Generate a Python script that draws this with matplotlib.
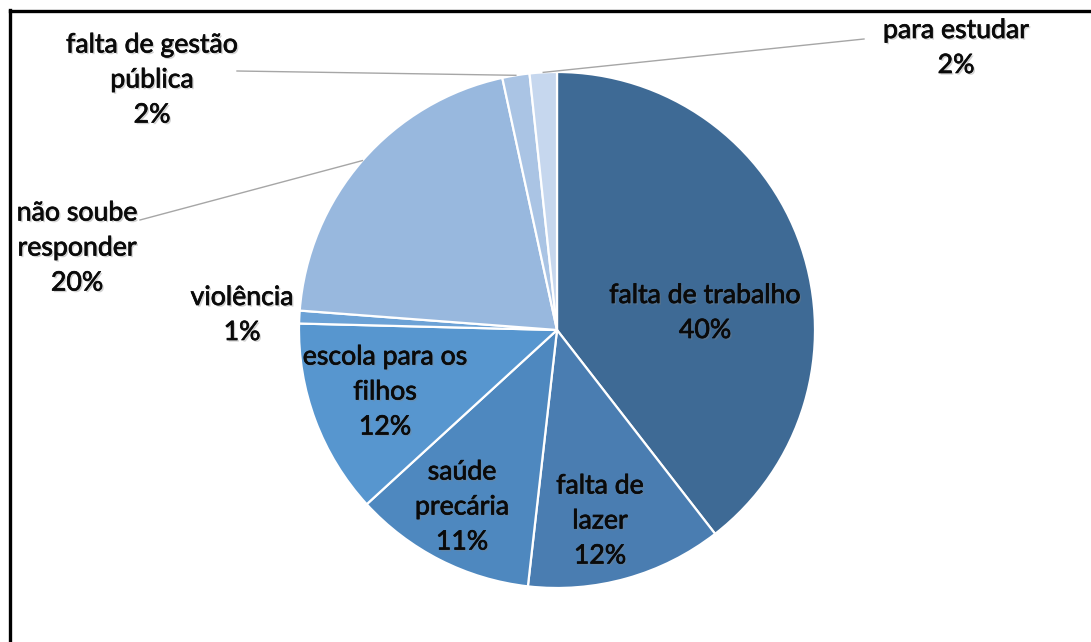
import matplotlib
matplotlib.use("Agg")
import matplotlib.pyplot as plt
import matplotlib.patheffects as pe
from matplotlib.lines import Line2D
import numpy as np

# ---- data ----
categories = ["falta de trabalho", "falta de\nlazer", "saúde\nprecária",
              "escola para os\nfilhos", "violência", "não soube\nresponder",
              "falta de gestão\npública", "para estudar"]
values = [39.5, 12.3, 11.4, 12.2, 0.8, 20.4, 1.7, 1.7]
colors = ["#3E6A95", "#4A7DB1", "#4E88BF", "#5796CF", "#6CA2D6",
          "#98B8DE", "#AAC4E4", "#C6D7EE"]

# ---- layout (pixel positions, y from bottom) ----
W, H = 1091, 642
center = (557, H - 330)
radius = 258
label_pos = [(705, H - 313), (600, H - 521), (462, H - 507), (385, H - 392),
             (242, H - 315), (77, H - 248), (152, H - 80), (956, H - 48)]
leader_end = {5: (140, H - 220), 6: (237, H - 71), 7: (864, H - 39)}

fig = plt.figure(figsize=(W / 100, H / 100), dpi=100)
ax = fig.add_axes([0, 0, 1, 1])
wedges, _ = ax.pie(values, colors=colors, startangle=90, counterclock=False,
                   center=center, radius=radius,
                   wedgeprops=dict(edgecolor="white", linewidth=1.6))
ax.set_xlim(0, W)
ax.set_ylim(0, H)
ax.set_aspect("equal")
ax.axis("off")

shadow = [pe.SimplePatchShadow(offset=(1.2, -1.2), shadow_rgbFace="#808080", alpha=0.35),
          pe.withStroke(linewidth=0.5, foreground="#0A0A0A")]

for i, (cat, v) in enumerate(zip(categories, values)):
    txt = f"{cat}\n{round(v)}%"
    x, y = label_pos[i]
    ax.text(x, y, txt, ha="center", va="center", fontsize=19.2,
            family=["Lato", "DejaVu Sans"], color="#0A0A0A",
            linespacing=1.5, path_effects=shadow)
    if i in leader_end:
        w = wedges[i]
        ang = np.deg2rad((w.theta1 + w.theta2) / 2)
        sx = center[0] + radius * np.cos(ang)
        sy = center[1] + radius * np.sin(ang)
        ex, ey = leader_end[i]
        ax.plot([sx, ex], [sy, ey], color="#A6A6A6", lw=1.0, clip_on=False)

# frame: left and top black lines
fig.add_artist(Line2D([9.5 / W, 9.5 / W], [0, (H - 10) / H], color="black",
                      lw=2.4, transform=fig.transFigure, solid_capstyle="projecting"))
fig.add_artist(Line2D([9.5 / W, 1], [(H - 11) / H, (H - 11) / H], color="black",
                      lw=2.4, transform=fig.transFigure, solid_capstyle="projecting"))

fig.savefig("out.png", dpi=100, facecolor="white")
